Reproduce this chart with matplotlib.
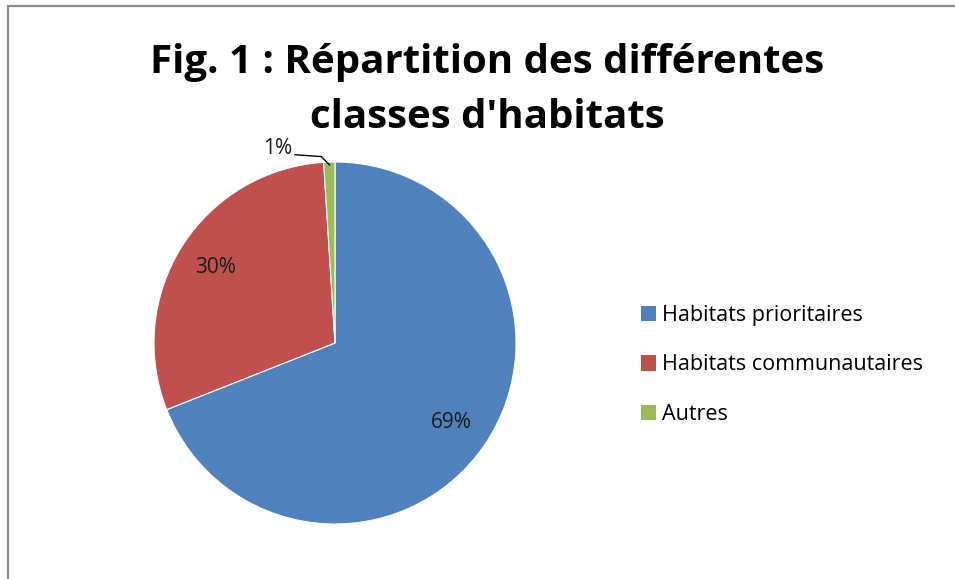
import numpy as np
from matplotlib import pyplot as plt
from matplotlib.patches import Rectangle

# Parts of each habitat class (percent)
categories = ["Habitats prioritaires", "Habitats communautaires", "Autres"]
shares = [69, 30, 1]
colors = ["#4F81BD", "#C0504D", "#9BBB59"]

title = "Fig. 1 : Répartition des différentes\nclasses d'habitats"

plt.rcParams['font.family'] = ['Open Sans', 'DejaVu Sans']

fig = plt.figure(figsize=(9.55, 5.79), dpi=100)

# grey chart frame, open on the right and bottom like the cropped original
fig.add_artist(Rectangle((7.5 / 955, -0.1), 1.2, 1.1 - 6.5 / 579,
                         transform=fig.transFigure, fill=False,
                         edgecolor="#8c8c8c", linewidth=1.6))

ax = fig.add_axes([154 / 955, 55 / 579, 362 / 955, 362 / 579])
wedges, _ = ax.pie(shares, colors=colors, startangle=90, counterclock=False,
                   radius=1.0, wedgeprops=dict(linewidth=0.8, edgecolor="white"))
ax.set_xlim(-1, 1)
ax.set_ylim(-1, 1)
ax.set_aspect("equal")
ax.axis("off")

total = sum(shares)
for w, v in zip(wedges, shares):
    mid = np.deg2rad((w.theta1 + w.theta2) / 2)
    label = f"{round(100 * v / total)}%"
    if v / total > 0.05:
        r = 0.78
        ax.text(r * np.cos(mid), r * np.sin(mid), label, ha="center", va="center",
                fontsize=15, color="#1a1a1a")
    else:
        p0 = (0.985 * np.cos(mid), 0.985 * np.sin(mid))
        p1 = (p0[0] - 0.045, 1.03)
        p2 = (p0[0] - 0.19, 1.04)
        ax.plot([p0[0], p1[0], p2[0]], [p0[1], p1[1], p2[1]], color="black",
                linewidth=1.0, clip_on=False)
        ax.text(p2[0] - 0.015, p2[1] + 0.035, label, ha="right", va="center",
                fontsize=15, color="#1a1a1a")

fig.text(487 / 955, 1 - 90 / 579, title, ha="center", va="center",
         fontsize=29, fontweight="bold", linespacing=1.55, color="black")

handles = [Rectangle((0, 0), 1, 1, facecolor=c, edgecolor="none") for c in colors]
fig.legend(handles, categories, loc="center left", bbox_to_anchor=(630 / 955, 1 - 365 / 579),
           frameon=False, fontsize=15.5, handlelength=0.7, handleheight=0.7,
           handletextpad=0.3, labelspacing=1.32, borderpad=0)

fig.savefig("out.png", dpi=100)
